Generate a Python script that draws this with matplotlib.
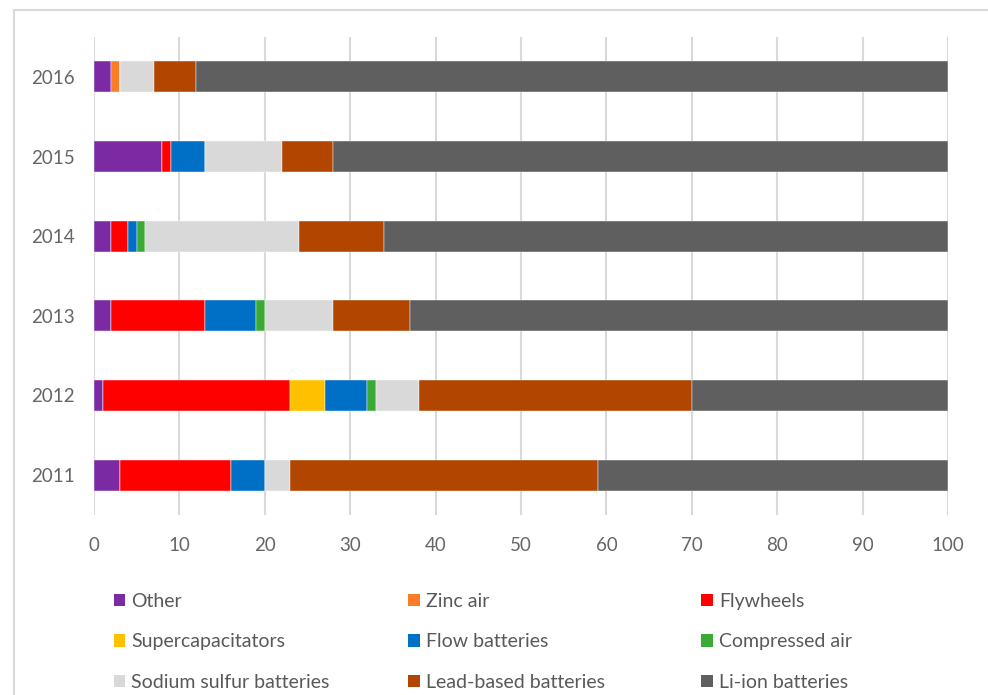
import numpy as np
import matplotlib.pyplot as plt
from matplotlib.patches import Patch
from matplotlib.lines import Line2D

plt.rcParams['font.family'] = ['Lato', 'DejaVu Sans']

years = ['2011', '2012', '2013', '2014', '2015', '2016']

# share of each technology per year (%)
other = [3, 1, 2, 2, 8, 2]
zinc_air = [0, 0, 0, 0, 0, 1]
flywheels = [13, 22, 11, 2, 1, 0]
supercaps = [0, 4, 0, 0, 0, 0]
flow = [4, 5, 6, 1, 4, 0]
compressed_air = [0, 1, 1, 1, 0, 0]
sodium_sulfur = [3, 5, 8, 18, 9, 4]
lead_based = [36, 32, 9, 10, 6, 5]
li_ion = [41, 30, 63, 66, 72, 88]

series = [other, zinc_air, flywheels, supercaps, flow, compressed_air,
          sodium_sulfur, lead_based, li_ion]
names = ['Other', 'Zinc air', 'Flywheels', 'Supercapacitators', 'Flow batteries',
         'Compressed air', 'Sodium sulfur batteries', 'Lead-based batteries',
         'Li-ion batteries']
colors = ['#7B2AA3', '#F97D26', '#FF0000', '#FFC000', '#0070C6',
          '#3AAA35', '#D9D9D9', '#B24500', '#5F5F5F']

fig = plt.figure(figsize=(9.88, 6.95), dpi=100)
ax = fig.add_axes([94/988, 1 - 515/695, (948 - 94)/988, (515 - 37)/695])

y = np.arange(len(years))
left = np.zeros(len(years))
for vals, c in zip(series, colors):
    vals = np.array(vals, dtype=float)
    ax.barh(y, vals, left=left, height=0.39, color=c, edgecolor='white', linewidth=0.3)
    left += vals

ax.set_xlim(0, 100)
ax.set_ylim(-0.5, 5.5)
ax.set_xticks(np.arange(0, 101, 10))
ax.set_yticks(y)
ax.set_yticklabels(years)
ax.grid(axis='x', color='#D9D9D9', linewidth=1.5)
ax.set_axisbelow(True)
for s in ax.spines.values():
    s.set_visible(False)
ax.tick_params(axis='both', length=0, labelsize=13.5, colors='#666666')
ax.tick_params(axis='x', pad=16)
ax.tick_params(axis='y', pad=14)

# legend laid out as three columns, row-major order
col_x = [0.115, 0.413, 0.710]
for i, x in enumerate(col_x):
    idx = [i, i + 3, i + 6]
    handles = [Patch(facecolor=colors[k], edgecolor='none') for k in idx]
    fig.legend(handles, [names[k] for k in idx], loc='upper left',
               bbox_to_anchor=(x, 1 - 593/695), frameon=False,
               fontsize=14, labelcolor='#595959', handlelength=0.6,
               handleheight=0.6, handletextpad=0.3, labelspacing=1.2,
               borderaxespad=0, borderpad=0)

# thin frame around the chart area
fig.add_artist(Line2D([14/988, 1], [1 - 10/695, 1 - 10/695], color='#D9D9D9', lw=1.5))
fig.add_artist(Line2D([14/988, 14/988], [0, 1 - 10/695], color='#D9D9D9', lw=1.5))

fig.savefig('out.png', dpi=100)
